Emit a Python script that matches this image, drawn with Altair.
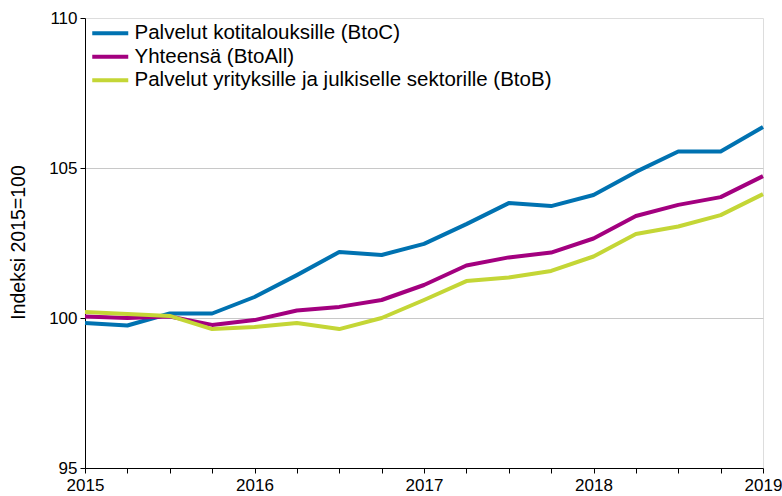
import altair as alt
import pandas as pd

quarters = [2015 + i * 0.25 for i in range(17)]
btoc = [99.83, 99.75, 100.15, 100.15, 100.7, 101.43, 102.2, 102.1, 102.47, 103.13, 103.83, 103.73, 104.1, 104.87, 105.55, 105.55, 106.37]
btoall = [100.05, 100.0, 100.05, 99.77, 99.93, 100.25, 100.37, 100.6, 101.1, 101.75, 102.02, 102.18, 102.65, 103.4, 103.77, 104.03, 104.73]
btob = [100.2, 100.13, 100.07, 99.63, 99.7, 99.83, 99.63, 100.0, 100.6, 101.23, 101.35, 101.57, 102.05, 102.8, 103.05, 103.43, 104.13]

names = ["Palvelut kotitalouksille (BtoC)", "Yhteensä (BtoAll)", "Palvelut yrityksille ja julkiselle sektorille (BtoB)"]
colors = ["#0072b1", "#a3007f", "#c4d636"]

rows = []
for n, vals in zip(names, [btoc, btoall, btob]):
    for q, v in zip(quarters, vals):
        rows.append({"q": q, "v": v, "s": n})
df = pd.DataFrame(rows)

font = "Liberation Sans"

chart = alt.Chart(df).mark_line(strokeWidth=4, strokeCap="butt", strokeJoin="round").encode(
    x=alt.X("q:Q", scale=alt.Scale(domain=[2015, 2019], nice=False, zero=False),
            axis=alt.Axis(values=quarters, labelExpr="datum.value % 1 == 0 ? format(datum.value, 'd') : ''",
                          grid=False, title=None, domainColor="black", tickColor="black",
                          tickSize=5, labelPadding=4, labelFontSize=17, labelColor="black",
                          labelFont=font, labelFlush=False, labelOverlap=False)),
    y=alt.Y("v:Q", scale=alt.Scale(domain=[95, 110], nice=False, zero=False),
            axis=alt.Axis(values=[95, 100, 105, 110], title="Indeksi 2015=100",
                          titleFont=font, titleFontSize=19.5, titleFontWeight="normal", titleColor="black",
                          titleX=-67, titleY=224, titleAngle=-90, titleAlign="center", titleBaseline="middle",
                          domainColor="black", tickColor="black", tickSize=5, labelPadding=3,
                          labelFontSize=17, labelColor="black", labelFont=font,
                          gridColor="#c8c8c8", gridWidth=1,
                          gridOpacity={"condition": {"test": "datum.value == 110 || datum.value == 95", "value": 0}, "value": 1})),
    color=alt.Color("s:N", scale=alt.Scale(domain=names, range=colors),
                    legend=alt.Legend(orient="none", legendX=15, legendY=5, title=None,
                                      symbolType="M-3.6,0H3.6", symbolSize=100, symbolStrokeWidth=4,
                                      labelFontSize=20.5, labelFont=font, labelColor="black", labelLimit=0,
                                      labelOffset=14, rowPadding=2.5, padding=0)),
    order=alt.Order("s_order:Q"),
).transform_calculate(
    s_order="indexof(['%s','%s','%s'], datum.s)" % tuple(names)
).properties(
    width=678, height=450,
    autosize=alt.AutoSizeParams(type="none"),
    padding={"left": 85, "top": 18, "right": 19, "bottom": 28},
).configure_view(stroke=None).configure(background="white")

chart.save("out.html", embed_options={"renderer": "svg", "actions": False})
